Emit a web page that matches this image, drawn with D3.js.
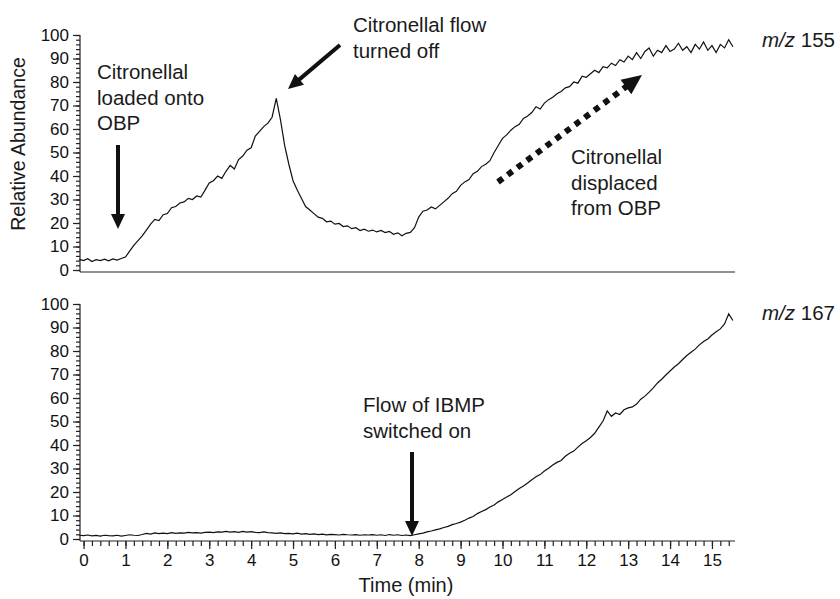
<!DOCTYPE html>
<html>
<head>
<meta charset="utf-8">
<script src="https://cdn.jsdelivr.net/npm/d3@7"></script>
<style>
  body { margin: 0; background: #fff; }
  svg { font-family: "Liberation Sans", Arial, Helvetica, sans-serif; }
  .axis text { font-size: 17px; fill: #111; }
  .axis path, .axis line { stroke: #222; stroke-width: 1.2; }
  .trace { fill: none; stroke: #111; stroke-width: 1.2; }
  .note { font-size: 20.5px; fill: #1a1a1a; }
</style>
</head>
<body>
<svg width="840" height="599"></svg>
<script>
// sampling times (min)
var time = [-0.1,0,0.1,0.2,0.3,0.4,0.5,0.6,0.7,0.8,0.9,
  1,1.1,1.2,1.3,1.4,1.5,1.6,1.7,1.8,1.9,
  2,2.1,2.2,2.3,2.4,2.5,2.6,2.7,2.8,2.9,
  3,3.1,3.2,3.3,3.4,3.5,3.6,3.7,3.8,3.9,
  4,4.1,4.2,4.3,4.4,4.5,4.6,4.7,4.8,4.9,
  5,5.1,5.2,5.3,5.4,5.5,5.6,5.7,5.8,5.9,
  6,6.1,6.2,6.3,6.4,6.5,6.6,6.7,6.8,6.9,
  7,7.1,7.2,7.3,7.4,7.5,7.6,7.7,7.8,7.9,
  8,8.1,8.2,8.3,8.4,8.5,8.6,8.7,8.8,8.9,
  9,9.1,9.2,9.3,9.4,9.5,9.6,9.7,9.8,9.9,
  10,10.1,10.2,10.3,10.4,10.5,10.6,10.7,10.8,10.9,
  11,11.1,11.2,11.3,11.4,11.5,11.6,11.7,11.8,11.9,
  12,12.1,12.2,12.3,12.4,12.5,12.6,12.7,12.8,12.9,
  13,13.1,13.2,13.3,13.4,13.5,13.6,13.7,13.8,13.9,
  14,14.1,14.2,14.3,14.4,14.5,14.6,14.7,14.8,14.9,
  15,15.1,15.2,15.3,15.4,15.5];

// m/z 155 relative abundance
var mz155 = [4.5,4,4.8,3.6,4.4,4,4.6,3.9,4.7,4.2,4.9,
  5.5,8,10.5,12.5,14.5,17,19.5,21.5,21,23.5,
  24,26.5,27,28.5,29,30.5,30,31.5,31,34,
  37,38,40,39,42,44.5,43,47,48.5,51,
  52,57,59,61,62.5,65,73,64,53,45,
  38,34,30.5,27,25.5,24,22.5,22,20.5,20.8,
  19.5,19.8,18.5,18.8,17.6,18,16.8,17.4,16.5,17,
  16.2,16.8,15.9,16.4,15.2,15.8,14.6,15.6,16,18,
  22.5,25,25.5,26.8,26,27.5,29,30.5,32.5,33.5,
  36,37.5,38.5,41,42,44,45,46.5,50,53,
  56,57.5,59.5,61,62,64.5,65.5,67,69.5,68.5,
  71,72.5,73.5,75,76,77.5,78,80,79.5,82.5,
  82,83.5,85,84,86.5,86,88,87,89.5,88.5,
  91,89.5,92.5,90,93,94.5,91,93.5,92.5,95.5,
  93,94,96.5,93.5,95,92.5,96,94,97,93.5,
  95.5,92.5,96,94.5,98,95];

// m/z 167 relative abundance
var mz167 = [1.6,1.4,1.7,1.3,1.5,1.2,1.6,1.4,1.3,1.6,1.2,
  1.5,1.8,1.6,1.5,1.9,2.4,2.1,2.6,2.3,2.5,
  2.3,2.7,2.4,2.6,2.5,2.8,2.6,2.7,2.5,2.8,
  2.9,2.7,3,2.9,3.2,2.9,3.1,2.8,3.2,2.9,
  3.1,2.8,2.7,3,2.7,2.6,2.4,2.6,2.3,2.4,
  2.2,2.5,2.1,2.3,2,2.2,1.9,2.1,1.8,2,
  1.9,1.7,2,1.8,1.7,1.9,1.6,1.8,1.7,1.9,
  1.6,1.8,1.5,1.9,1.6,1.8,1.5,1.7,1.4,1.8,
  2.2,2.5,3,3.4,3.9,4.3,4.9,5.4,6.1,6.6,
  7.2,8,8.9,9.6,10.8,11.7,12.5,13.6,14.5,15.8,
  16.8,17.9,18.8,20.2,21.5,22.6,23.8,25.2,26.5,27.4,
  28.9,30.1,31.5,32.6,33.4,35.2,36.5,37.4,39.1,40.6,
  41.8,43.2,45,47.6,50.2,54.5,52.2,53.6,53,55,
  55.8,56.2,57.4,59.5,60.8,62.5,64.3,66.4,68,69.8,
  71.5,73.2,74.6,76.4,78.1,79.5,80.8,82.6,84,85.1,
  86.8,88.2,89.4,91.5,95.8,93];

var yTicks = [0, 10, 20, 30, 40, 50, 60, 70, 80, 90, 100];
var xTicks = [0, 1, 2, 3, 4, 5, 6, 7, 8, 9, 10, 11, 12, 13, 14, 15];
var seriesLabels = ["155", "167"];

var svg = d3.select("svg");

var x = d3.scaleLinear().domain([-0.085, 15.55]).range([80, 735]);
var yTop = d3.scaleLinear().domain([0, 100]).range([270, 35]);
var yBot = d3.scaleLinear().domain([0, 100]).range([539, 304]);

var yMinor = d3.range(0, 101, 2);
var xMinor = d3.range(0, 15.5, 0.2);

function yAxis(scale, bottom) {
    var g = svg.append("g").attr("class", "axis")
        .attr("transform", "translate(" + x.range()[0] + ",0)");
    g.append("g")
        .call(d3.axisLeft(scale).tickValues(yMinor).tickSize(4).tickSizeOuter(0).tickFormat(""));
    g.append("g")
        .call(d3.axisLeft(scale).tickValues(yTicks).tickSize(7).tickSizeOuter(0).tickPadding(4));
    g.selectAll(".domain").remove();
    g.append("line")
        .attr("y1", scale(100)).attr("y2", bottom)
        .attr("stroke", "#222").attr("stroke-width", 1.2);
}

yAxis(yTop, 272);
yAxis(yBot, 541);

// top panel baseline
svg.append("line")
    .attr("x1", x.range()[0]).attr("x2", x.range()[1])
    .attr("y1", 272).attr("y2", 272)
    .attr("stroke", "#222").attr("stroke-width", 1.2);

// bottom x axis
var xg = svg.append("g").attr("class", "axis")
    .attr("transform", "translate(0,541)");
xg.append("g")
    .call(d3.axisBottom(x).tickValues(xMinor).tickSize(5).tickSizeOuter(0).tickFormat(""));
xg.append("g")
    .call(d3.axisBottom(x).tickValues(xTicks).tickSize(8).tickSizeOuter(0).tickPadding(5).tickFormat(d3.format("d")));
xg.selectAll(".domain").remove();
xg.append("line")
    .attr("x1", x.range()[0]).attr("x2", x.range()[1])
    .attr("stroke", "#222").attr("stroke-width", 1.2);

// traces
svg.append("path")
    .datum(time.map(function(t, i) { return [t, mz155[i]]; }))
    .attr("class", "trace")
    .attr("d", d3.line().x(function(d) { return x(d[0]); }).y(function(d) { return yTop(d[1]); }));
svg.append("path")
    .datum(time.map(function(t, i) { return [t, mz167[i]]; }))
    .attr("class", "trace")
    .attr("d", d3.line().x(function(d) { return x(d[0]); }).y(function(d) { return yBot(d[1]); }));

// axis titles
svg.append("text")
    .attr("transform", "translate(25,144) rotate(-90)")
    .attr("text-anchor", "middle")
    .attr("font-size", 19.5).attr("fill", "#1a1a1a")
    .text("Relative Abundance");
svg.append("text")
    .attr("x", 406).attr("y", 592)
    .attr("text-anchor", "middle")
    .attr("font-size", 20).attr("fill", "#1a1a1a")
    .text("Time (min)");

// series labels
[[40, seriesLabels[0]], [313, seriesLabels[1]]].forEach(function(s) {
    var t = svg.append("text").attr("class", "note")
        .attr("x", 762).attr("y", s[0] + 7);
    t.append("tspan").attr("font-style", "italic").text("m/z");
    t.append("tspan").text(" " + s[1]);
});

// multi-line notes
function note(lines, x0, y0) {
    var t = svg.append("text").attr("class", "note");
    lines.forEach(function(l, i) {
        t.append("tspan").attr("x", x0).attr("y", y0 + i * 25.5).text(l);
    });
}
note(["Citronellal", "loaded onto", "OBP"], 97, 79);
note(["Citronellal flow", "turned off"], 353, 32);
note(["Citronellal", "displaced", "from OBP"], 571, 164);
note(["Flow of IBMP", "switched on"], 363, 412);

// arrows
function arrow(x1, y1, x2, y2, dotted) {
    var dx = x2 - x1, dy = y2 - y1, len = Math.sqrt(dx * dx + dy * dy);
    var ux = dx / len, uy = dy / len;
    var hl = dotted ? 20 : 15, hw = dotted ? 9 : 7;
    var bx = x2 - ux * hl, by = y2 - uy * hl;
    svg.append("line")
        .attr("x1", x1).attr("y1", y1).attr("x2", bx + ux * 2).attr("y2", by + uy * 2)
        .attr("stroke", "#111")
        .attr("stroke-width", dotted ? 6 : 4)
        .attr("stroke-dasharray", dotted ? "6,6" : null);
    svg.append("polygon")
        .attr("points", [[x2, y2], [bx - uy * hw, by + ux * hw], [bx + uy * hw, by - ux * hw]].join(" "))
        .attr("fill", "#111");
}
arrow(118, 145, 118, 229, false);
arrow(340, 45, 288, 89, false);
arrow(498, 182, 642, 75, true);
arrow(412, 452, 412, 536, false);
</script>
</body>
</html>
